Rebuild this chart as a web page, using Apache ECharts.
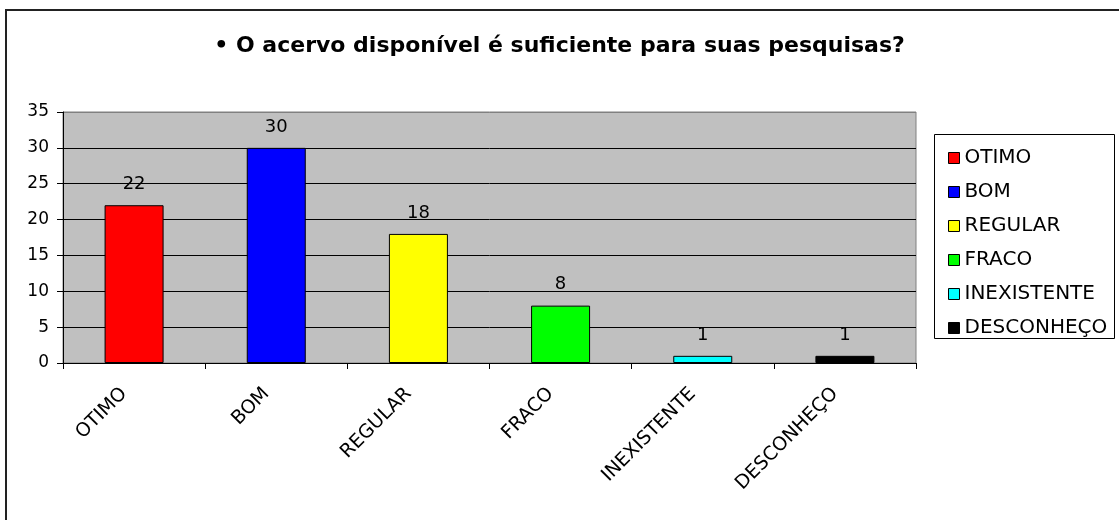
<!DOCTYPE html>
<html>
<head>
<meta charset="utf-8">
<title>O acervo disponível</title>
<script src="https://cdn.jsdelivr.net/npm/echarts@6/dist/echarts.min.js"></script>
<style>
    html, body { margin: 0; padding: 0; background: #fff; }
    #divStatis { width: 1119px; height: 520px; }
</style>
</head>
<body>
<div id="divStatis"></div>
<script>
// dados do gráfico
var categorias = ['OTIMO', 'BOM', 'REGULAR', 'FRACO', 'INEXISTENTE', 'DESCONHEÇO'];
var valores = [22, 30, 18, 8, 1, 1];
var yTicks = [0, 5, 10, 15, 20, 25, 30, 35];
var cores = ['#FF0000', '#0000FF', '#FFFF00', '#00FF00', '#00FFFF', '#000000'];

var fonte = 'DejaVu Sans';

// one series per category so that the legend lists every category
var series = [];
categorias.forEach(function (nome, i) {
    var data = categorias.map(function (c, j) { return j === i ? valores[i] : '-'; });
    series.push({
        name: nome,
        type: 'bar',
        stack: 'total',
        barWidth: 59,
        itemStyle: {
            color: cores[i],
            borderColor: '#000',
            borderWidth: 1
        },
        label: {
            show: true,
            position: 'top',
            distance: 12,
            color: '#000',
            fontFamily: fonte,
            fontSize: 18
        },
        data: data
    });
});

// grid lines black, the top one grey like the plot border
var corLinhas = yTicks.map(function (v, i) { return i === yTicks.length - 1 ? '#808080' : '#000'; });

var myChart = echarts.init(document.getElementById('divStatis'));
var option = {
    animation: false,
    backgroundColor: '#fff',
    color: cores,
    title: {
        text: '• O acervo disponível é suficiente para suas pesquisas?',
        left: 'center',
        top: 30,
        textStyle: {
            fontFamily: fonte,
            fontWeight: 'bold',
            fontSize: 22,
            color: '#000'
        }
    },
    legend: {
        orient: 'vertical',
        left: 943,
        top: 143,
        icon: 'rect',
        itemWidth: 11,
        itemHeight: 11,
        itemGap: 14,
        itemStyle: { borderColor: '#000', borderWidth: 1 },
        textStyle: {
            fontFamily: fonte,
            fontSize: 20,
            lineHeight: 20,
            color: '#000'
        },
        data: categorias
    },
    grid: {
        left: 63,
        top: 112,
        width: 853,
        height: 251,
        show: true,
        backgroundColor: '#C0C0C0',
        borderColor: '#808080',
        borderWidth: 1
    },
    xAxis: {
        type: 'category',
        data: categorias,
        boundaryGap: true,
        axisLine: { lineStyle: { color: '#000', width: 1 } },
        axisTick: { show: true, length: 6, lineStyle: { color: '#000' } },
        axisLabel: {
            rotate: 45,
            margin: 18,
            padding: [0, 14, 0, 0],
            interval: 0,
            color: '#000',
            fontFamily: fonte,
            fontSize: 19
        }
    },
    yAxis: {
        type: 'value',
        min: yTicks[0],
        max: yTicks[yTicks.length - 1],
        interval: yTicks[1] - yTicks[0],
        axisLine: { show: true, lineStyle: { color: '#000', width: 1 } },
        axisTick: { show: true, length: 6, lineStyle: { color: '#000' } },
        splitLine: { show: true, lineStyle: { color: corLinhas, width: 1 } },
        axisLabel: {
            margin: 14,
            color: '#000',
            fontFamily: fonte,
            fontSize: 17
        }
    },
    graphic: [
        {
            type: 'polyline',
            shape: { points: [[6, 520], [6, 10], [1119, 10]] },
            style: { stroke: '#222', lineWidth: 2, fill: null },
            silent: true
        },
        {
            type: 'rect',
            shape: { x: 934.5, y: 134.5, width: 180, height: 204 },
            style: { stroke: '#000', lineWidth: 1, fill: '#fff' },
            z: -1,
            silent: true
        }
    ],
    series: series
};
myChart.setOption(option);
</script>
</body>
</html>
